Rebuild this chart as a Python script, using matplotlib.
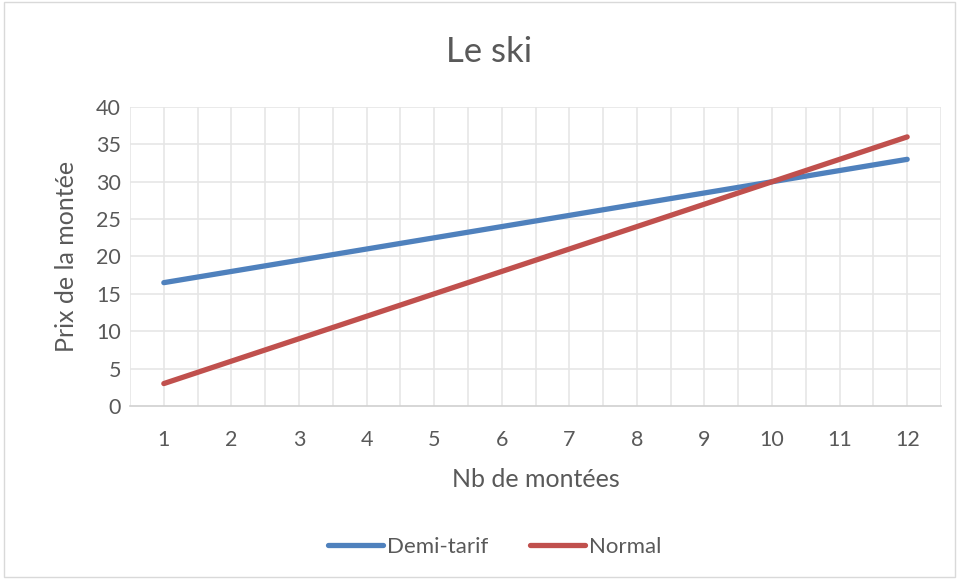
import matplotlib.pyplot as plt
from matplotlib.patches import Rectangle

plt.rcParams['font.family'] = ['Lato', 'DejaVu Sans']

# ── data ──
nb_montees = [1, 2, 3, 4, 5, 6, 7, 8, 9, 10, 11, 12]
demi_tarif = [16.5, 18, 19.5, 21, 22.5, 24, 25.5, 27, 28.5, 30, 31.5, 33]
normal = [3, 6, 9, 12, 15, 18, 21, 24, 27, 30, 33, 36]
y_ticks = [0, 5, 10, 15, 20, 25, 30, 35, 40]

text_col = '#595959'
grid_col = '#E6E6E6'

fig = plt.figure(figsize=(9.59, 5.79), dpi=100)
ax = fig.add_axes([0.1356, 0.2988, 0.8456, 0.5164])

# Excel-style frame round the whole chart
fig.patches.append(Rectangle((0.004, 0.004), 0.992, 0.992, transform=fig.transFigure,
                             fill=False, edgecolor='#D9D9D9', linewidth=1))

ax.plot(nb_montees, demi_tarif, color='#4F81BD', linewidth=3.8,
        solid_capstyle='round', label='Demi-tarif', zorder=3)
ax.plot(nb_montees, normal, color='#C0504D', linewidth=3.8,
        solid_capstyle='round', label='Normal', zorder=3)

ax.set_xlim(0.5, 12.5)
ax.set_ylim(0, 40)
ax.set_xticks(nb_montees)
ax.set_yticks(y_ticks)

# vertical grid on every half step, horizontal every 5
for gx in [i / 2 for i in range(1, 26)]:
    ax.axvline(gx, color=grid_col, linewidth=1.2, zorder=1)
for gy in y_ticks[1:]:
    ax.axhline(gy, color=grid_col, linewidth=1.2, zorder=1)

for s in ['top', 'right', 'left']:
    ax.spines[s].set_visible(False)
ax.spines['bottom'].set_color('#D0D0D0')
ax.spines['bottom'].set_linewidth(1.2)

ax.tick_params(length=0, labelsize=15.5, labelcolor=text_col)
ax.tick_params(axis='x', pad=17)
ax.tick_params(axis='y', pad=6.5)

fig.text(0.51, 0.91, 'Le ski', fontsize=25, color=text_col, ha='center', va='center')
ax.set_xlabel('Nb de montées', fontsize=18, color=text_col, labelpad=13)
ax.set_ylabel('Prix de la montée', fontsize=18, color=text_col, labelpad=13)

leg = fig.legend(loc='center', bbox_to_anchor=(0.516, 0.055), ncol=2, frameon=False,
                 fontsize=16, handlelength=2.45, handletextpad=0.18, columnspacing=1.9)
for t in leg.get_texts():
    t.set_color(text_col)

fig.savefig('out.png', dpi=100)
